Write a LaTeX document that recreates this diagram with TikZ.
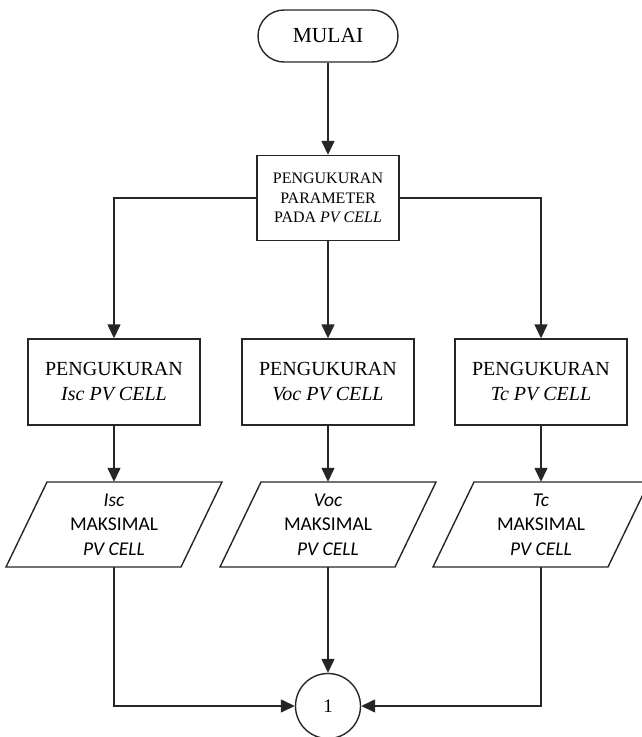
\documentclass[tikz,border=0pt]{standalone}
\usepackage{fontspec}
\setmainfont{Liberation Serif}
\newfontfamily\calfont{Carlito}
\usetikzlibrary{arrows.meta,positioning}
\begin{document}
\begin{tikzpicture}[x=1pt,y=-1pt,
  line/.style={line width=1.4pt,draw=black!85},
  arr/.style={line, -{Triangle[length=14pt,width=13pt]}},
  terminal/.style={line, rounded corners=26pt, minimum width=140pt, minimum height=52pt, font=\fontsize{21.5}{25}\selectfont, inner sep=0pt},
  procbox/.style={line, rectangle, minimum width=142pt, minimum height=85pt, align=center, font=\fontsize{16}{19.5}\selectfont, inner sep=0pt},
  mbox/.style={line, rectangle, minimum width=172pt, minimum height=86pt, align=center, font=\fontsize{20}{25}\selectfont, inner sep=0pt},
  iotext/.style={rectangle, minimum width=134pt, minimum height=85pt, align=center, font=\calfont\fontsize{19.5}{24.5}\selectfont, inner sep=0pt},
  conn/.style={line, circle, minimum size=65pt, font=\fontsize{19}{22}\selectfont, inner sep=0pt}
]
\useasboundingbox (0,0) rectangle (642,737);
\clip (0,0) rectangle (642,737);

\node[terminal] (start) at (328,36) {MULAI};
\node[procbox] (meas) at (328,198) {PENGUKURAN\\PARAMETER\\PADA \textit{PV CELL}};

\node[mbox] (b1) at (114,382) {PENGUKURAN\\\textit{Isc PV CELL}};
\node[mbox] (b2) at (328,382) {PENGUKURAN\\\textit{Voc PV CELL}};
\node[mbox] (b3) at (541,382) {PENGUKURAN\\\textit{Tc PV CELL}};

% parallelogram outlines
\foreach \cx in {114,328,541}{
  \draw[line] (\cx-67,482) -- (\cx+108,482) -- (\cx+67,567) -- (\cx-108,567) -- cycle;
}
\node[iotext] (p1) at (114,524.5) {\textit{Isc}\\MAKSIMAL\\\textit{PV CELL}};
\node[iotext] (p2) at (328,524.5) {\textit{Voc}\\MAKSIMAL\\\textit{PV CELL}};
\node[iotext] (p3) at (541,524.5) {\textit{Tc}\\MAKSIMAL\\\textit{PV CELL}};

\node[conn] (c1) at (328,706) {1};

\draw[arr] (start.south) -- (meas.north);
\draw[arr] (meas.west) -| (b1.north);
\draw[arr] (meas.south) -- (b2.north);
\draw[arr] (meas.east) -| (b3.north);

\draw[arr] (b1.south) -- (p1.north);
\draw[arr] (b2.south) -- (p2.north);
\draw[arr] (b3.south) -- (p3.north);

\draw[arr] (p1.south) |- (c1.west);
\draw[arr] (p2.south) -- (c1.north);
\draw[arr] (p3.south) |- (c1.east);
\end{tikzpicture}
\end{document}
